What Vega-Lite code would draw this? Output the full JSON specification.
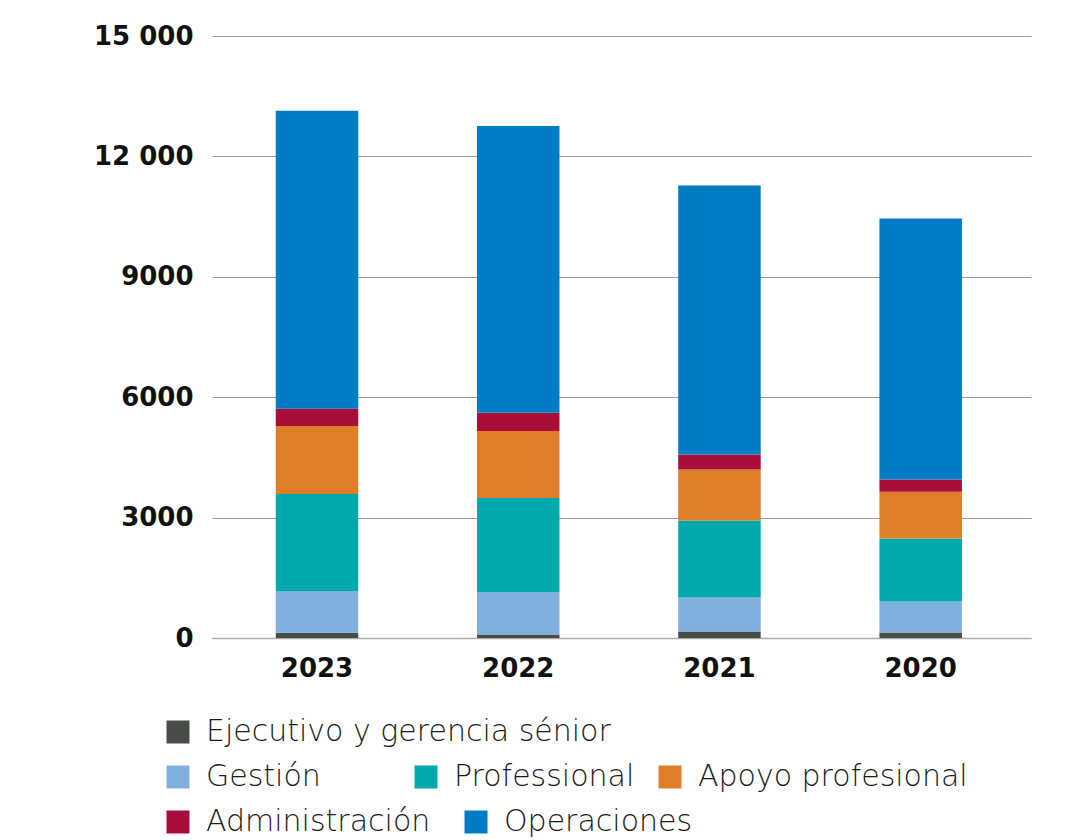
{
  "$schema": "https://vega.github.io/schema/vega-lite/v6.json",
  "width": 819,
  "height": 602,
  "autosize": {"type": "none"},
  "padding": {"left": 212, "top": 36, "right": 35, "bottom": 202},
  "background": "white",
  "config": {
    "view": {"stroke": null},
    "axis": {"labelFont": "DejaVu Sans", "labelFontWeight": "bold", "labelFontSize": 26, "labelColor": "#111", "title": null, "ticks": false},
    "legend": {"labelFont": "DejaVu Sans", "labelFontWeight": 200, "labelFontSize": 30, "labelColor": "#1a1a1a", "labelLimit": 0, "symbolType": "square", "symbolSize": 529, "symbolStrokeWidth": 0, "symbolOpacity": 1, "labelOffset": 13, "columnPadding": 30, "direction": "horizontal", "orient": "none", "title": null}
  },
  "data": {"values": [
    {"year": "2023", "category": "Ejecutivo y gerencia sénior", "orden": 1, "value": 130},
    {"year": "2023", "category": "Gestión", "orden": 2, "value": 1040},
    {"year": "2023", "category": "Professional", "orden": 3, "value": 2420},
    {"year": "2023", "category": "Apoyo profesional", "orden": 4, "value": 1695},
    {"year": "2023", "category": "Administración", "orden": 5, "value": 425},
    {"year": "2023", "category": "Operaciones", "orden": 6, "value": 7425},
    {"year": "2022", "category": "Ejecutivo y gerencia sénior", "orden": 1, "value": 85},
    {"year": "2022", "category": "Gestión", "orden": 2, "value": 1060},
    {"year": "2022", "category": "Professional", "orden": 3, "value": 2345},
    {"year": "2022", "category": "Apoyo profesional", "orden": 4, "value": 1670},
    {"year": "2022", "category": "Administración", "orden": 5, "value": 450},
    {"year": "2022", "category": "Operaciones", "orden": 6, "value": 7150},
    {"year": "2021", "category": "Ejecutivo y gerencia sénior", "orden": 1, "value": 160},
    {"year": "2021", "category": "Gestión", "orden": 2, "value": 850},
    {"year": "2021", "category": "Professional", "orden": 3, "value": 1920},
    {"year": "2021", "category": "Apoyo profesional", "orden": 4, "value": 1270},
    {"year": "2021", "category": "Administración", "orden": 5, "value": 375},
    {"year": "2021", "category": "Operaciones", "orden": 6, "value": 6700},
    {"year": "2020", "category": "Ejecutivo y gerencia sénior", "orden": 1, "value": 137},
    {"year": "2020", "category": "Gestión", "orden": 2, "value": 770},
    {"year": "2020", "category": "Professional", "orden": 3, "value": 1570},
    {"year": "2020", "category": "Apoyo profesional", "orden": 4, "value": 1170},
    {"year": "2020", "category": "Administración", "orden": 5, "value": 300},
    {"year": "2020", "category": "Operaciones", "orden": 6, "value": 6505}
  ]},
  "transform": [
    {"stack": "value", "groupby": ["year"], "sort": [{"field": "orden", "order": "ascending"}], "as": ["v0", "v1"]}
  ],
  "encoding": {
    "x": {"field": "year", "type": "nominal", "scale": {"domain": ["2023", "2022", "2021", "2020"], "paddingInner": 0.59, "paddingOuter": 0.33, "align": 0.48},
      "axis": {"labelAngle": 0, "labelPadding": 17, "domain": true, "domainColor": "#aaa", "domainWidth": 1.5, "grid": false}},
    "y": {"field": "v1", "type": "quantitative", "scale": {"domain": [0, 15000]},
      "axis": {"values": [0, 3000, 6000, 9000, 12000, 15000], "domain": false, "grid": true, "gridColor": "#999", "gridWidth": 1, "labelPadding": 19,
        "labelExpr": "datum.value >= 10000 ? format(floor(datum.value/1000),'d') + ' 000' : '' + datum.value"}},
    "y2": {"field": "v0"}
  },
  "layer": [
    {
      "transform": [{"filter": {"field": "category", "oneOf": ["Ejecutivo y gerencia sénior"]}}],
      "mark": {"type": "bar"},
      "encoding": {"color": {"field": "category", "type": "nominal",
        "scale": {"domain": ["Ejecutivo y gerencia sénior"], "range": ["#464c46"]},
        "legend": {"legendX": -49, "legendY": 681}}}
    },
    {
      "transform": [{"filter": {"field": "category", "oneOf": ["Gestión"]}}],
      "mark": {"type": "bar"},
      "encoding": {"color": {"field": "category", "type": "nominal",
        "scale": {"domain": ["Gestión"], "range": ["#7fb0de"]},
        "legend": {"legendX": -49, "legendY": 726}}}
    },
    {
      "transform": [{"filter": {"field": "category", "oneOf": ["Professional", "Apoyo profesional"]}}],
      "mark": {"type": "bar"},
      "encoding": {"color": {"field": "category", "type": "nominal",
        "scale": {"domain": ["Professional", "Apoyo profesional"], "range": ["#00a9ac", "#e07e28"]},
        "legend": {"legendX": 199, "legendY": 726, "columnPadding": 20}}}
    },
    {
      "transform": [{"filter": {"field": "category", "oneOf": ["Administración", "Operaciones"]}}],
      "mark": {"type": "bar"},
      "encoding": {"color": {"field": "category", "type": "nominal",
        "scale": {"domain": ["Administración", "Operaciones"], "range": ["#a90e3a", "#007bc6"]},
        "legend": {"legendX": -49, "legendY": 771}}}
    }
  ],
  "resolve": {"scale": {"color": "independent"}, "legend": {"color": "independent"}}
}
